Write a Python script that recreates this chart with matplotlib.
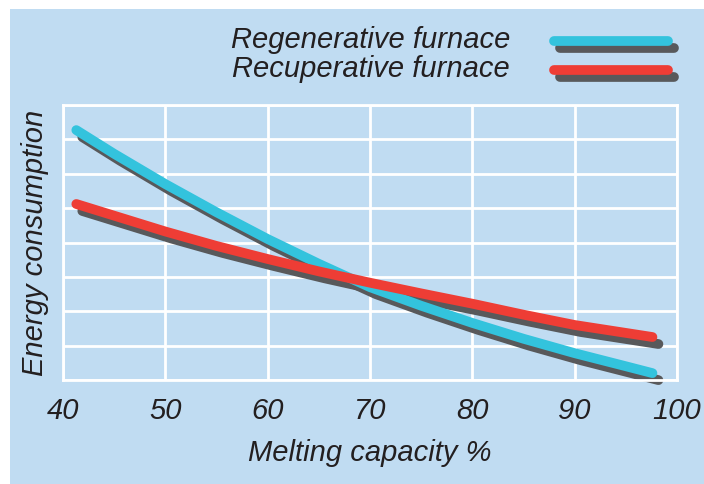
"""Energy consumption vs melting capacity for two furnace types."""

import matplotlib
matplotlib.use("Agg")
import matplotlib.pyplot as plt
from matplotlib.lines import Line2D
from matplotlib.patches import Rectangle
from matplotlib import transforms

BLUE_BG = "#c0dcf2"
CYAN = "#33c3dd"
RED = "#ee3d35"
SHADOW = "#58595b"
TEXT = "#231f20"

capacity = [41.3, 45, 50, 55, 60, 65, 70, 75, 80, 85, 90, 95, 97.6]
regenerative = [7.27, 6.58, 5.70, 4.88, 4.10, 3.38, 2.70, 2.16, 1.66, 1.20, 0.78, 0.40, 0.20]
recuperative = [5.12, 4.78, 4.32, 3.90, 3.52, 3.16, 2.83, 2.52, 2.22, 1.90, 1.60, 1.37, 1.25]
x_ticks = [40, 50, 60, 70, 80, 90, 100]
series_labels = ["Regenerative furnace", "Recuperative furnace"]

plt.rcParams["font.family"] = ["Liberation Sans", "DejaVu Sans"]

fig = plt.figure(figsize=(7.04, 4.84), dpi=100, facecolor="white")
fig.patches.append(Rectangle((10 / 704, 0), 1, 1 - 9 / 484, transform=fig.transFigure,
                             facecolor=BLUE_BG, edgecolor="none", zorder=-1))

ax = fig.add_axes([63 / 704, 1 - 380 / 484, (677 - 63) / 704, (380 - 105) / 484])
ax.set_zorder(1)
ax.set_facecolor(BLUE_BG)
ax.set_xlim(40, 100)
ax.set_ylim(0, 8)
ax.set_xticks(x_ticks)
ax.set_yticks(range(0, 9))
ax.set_yticklabels([])
ax.grid(True, color="white", linewidth=2)
ax.set_axisbelow(True)
for spine in ax.spines.values():
    spine.set_color("white")
    spine.set_linewidth(2)
ax.tick_params(length=0, labelsize=21, labelcolor=TEXT, pad=12)
for lbl in ax.get_xticklabels():
    lbl.set_fontstyle("italic")

ax.set_xlabel("Melting capacity %", fontsize=21, style="italic", color=TEXT, labelpad=10)
ax.set_ylabel("Energy consumption", fontsize=21, style="italic", color=TEXT, labelpad=-2)

lw = 7
shadow_tr = transforms.offset_copy(ax.transData, fig=fig, x=6, y=-7, units="dots")
for values in (regenerative, recuperative):
    ax.plot(capacity, values, color=SHADOW, linewidth=lw, solid_capstyle="round",
            solid_joinstyle="round", transform=shadow_tr, zorder=2, clip_on=False)
ax.plot(capacity, regenerative, color=CYAN, linewidth=lw, solid_capstyle="round",
        solid_joinstyle="round", zorder=3, clip_on=False)
ax.plot(capacity, recuperative, color=RED, linewidth=lw, solid_capstyle="round",
        solid_joinstyle="round", zorder=4, clip_on=False)

# hand-made legend with shadowed line keys
W, H = 704, 484
for label, color, ypix in zip(series_labels, [CYAN, RED], [40, 69]):
    fig.text(510 / W, 1 - ypix / H, label, ha="right", va="center", fontsize=21,
             style="italic", color=TEXT)
    x0, x1 = 554 / W, 668 / W
    y = 1 - (ypix + 1) / H
    fig.add_artist(Line2D([x0 + 6 / W, x1 + 6 / W], [y - 7 / H, y - 7 / H], transform=fig.transFigure,
                          color=SHADOW, linewidth=lw, solid_capstyle="round"))
    fig.add_artist(Line2D([x0, x1], [y, y], transform=fig.transFigure,
                          color=color, linewidth=lw, solid_capstyle="round"))

fig.savefig("out.png", dpi=100, facecolor="white")
